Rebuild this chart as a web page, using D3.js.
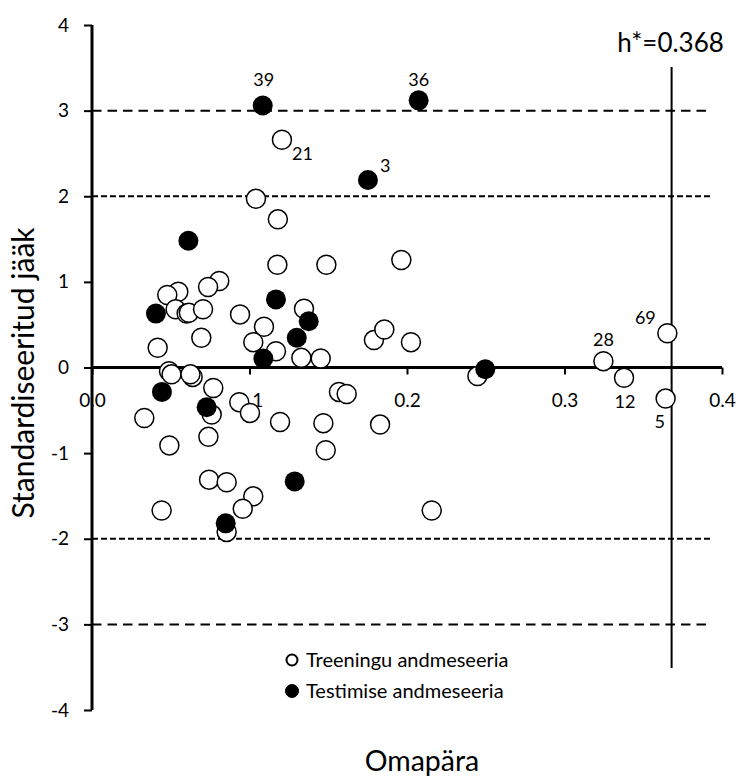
<!DOCTYPE html>
<html>
<head>
<meta charset="utf-8">
<script src="https://cdn.jsdelivr.net/npm/d3@7"></script>
<style>
  body { margin: 0; background: #fff; }
  text { font-family: Lato, "Open Sans", sans-serif; fill: #000; }
</style>
</head>
<body>
<div id="chart"></div>
<script>
// data: [omapära, standardiseeritud jääk, label]
var trainPoints = [
  [0.1206, 2.66, "21"], [0.1041, 1.97], [0.118, 1.73], [0.1177, 1.20], [0.1488, 1.20],
  [0.1964, 1.255], [0.0808, 1.01], [0.0737, 0.94], [0.0548, 0.885], [0.0478, 0.846],
  [0.0531, 0.68], [0.0601, 0.63], [0.0615, 0.64], [0.0705, 0.68], [0.094, 0.62],
  [0.1346, 0.686], [0.1092, 0.476], [0.1024, 0.296], [0.1168, 0.19], [0.1329, 0.113],
  [0.1452, 0.105], [0.0694, 0.347], [0.0417, 0.23], [0.179, 0.32], [0.1856, 0.444],
  [0.2025, 0.296], [0.2447, -0.10], [0.3247, 0.074, "28"], [0.3378, -0.12, "12"],
  [0.3653, 0.40, "69"], [0.3642, -0.363, "5"],
  [0.0489, -0.043], [0.0505, -0.08], [0.0639, -0.11], [0.0625, -0.08], [0.077, -0.24],
  [0.076, -0.55], [0.0935, -0.405], [0.1003, -0.53], [0.0332, -0.59], [0.1194, -0.636],
  [0.1469, -0.65], [0.1829, -0.667], [0.1568, -0.285], [0.1617, -0.31], [0.0739, -0.81],
  [0.0491, -0.91], [0.1484, -0.967], [0.0743, -1.31], [0.0855, -1.34], [0.1024, -1.505],
  [0.0957, -1.65], [0.0442, -1.67], [0.0855, -1.92], [0.2157, -1.67]
];
var testPoints = [
  [0.1084, 3.06, "39"], [0.2074, 3.12, "36"], [0.1752, 2.19, "3"], [0.0612, 1.48],
  [0.0406, 0.63], [0.1168, 0.795], [0.1376, 0.54], [0.13, 0.347], [0.1088, 0.105],
  [0.2497, -0.02], [0.0444, -0.285], [0.0728, -0.464], [0.1287, -1.33], [0.0849, -1.82]
];
var xTicks = [0, 0.1, 0.2, 0.3, 0.4];
var xTickLabels = ["0.0", "0.1", "0.2", "0.3", "0.4"];
var yTicks = [-4, -3, -2, -1, 0, 1, 2, 3, 4];
var limitLines = [3, 2, -2, -3];
var hStar = 0.368;
var seriesNames = ["Treeningu andmeseeria", "Testimise andmeseeria"];

var svgWidth = 740, svgHeight = 781;
var margin = { top: 25, right: 18, bottom: 71, left: 92 };
var width = svgWidth - margin.left - margin.right;
var height = svgHeight - margin.top - margin.bottom;

var svg = d3.select("#chart").append("svg")
  .attr("width", svgWidth)
  .attr("height", svgHeight);

var chartGroup = svg.append("g")
  .attr("transform", `translate(${margin.left}, ${margin.top})`);

var xScale = d3.scaleLinear().domain([0, 0.4]).range([0, width]);
var yScale = d3.scaleLinear().domain([-4, 4]).range([height, 0]);

// dashed limit lines (+-3 long dashes, +-2 short dashes)
chartGroup.selectAll(".limit")
  .data(limitLines)
  .enter()
  .append("line")
  .attr("x1", 0)
  .attr("x2", d => Math.abs(d) === 3 ? xScale(0.4) - 12 : xScale(0.4) - 10)
  .attr("y1", d => yScale(d))
  .attr("y2", d => yScale(d))
  .attr("stroke", "#000")
  .attr("stroke-width", 2)
  .attr("stroke-dasharray", d => Math.abs(d) === 3 ? "9.5,6" : "6,3");

// h* line
chartGroup.append("line")
  .attr("x1", xScale(hStar)).attr("x2", xScale(hStar))
  .attr("y1", yScale(3.51)).attr("y2", yScale(-3.51))
  .attr("stroke", "#000")
  .attr("stroke-width", 2);

chartGroup.append("text")
  .attr("x", xScale(hStar) - 1)
  .attr("y", 52 - margin.top)
  .attr("text-anchor", "middle")
  .attr("font-size", 26)
  .text("h*=" + hStar);

// y axis (plain hyphen for negatives)
var yAxis = d3.axisLeft(yScale).tickValues(yTicks).tickSize(8).tickPadding(15)
  .tickFormat(d => String(d));
var yAxisG = chartGroup.append("g").call(yAxis);
yAxisG.select(".domain").attr("stroke-width", 3).attr("d", `M0,${yScale(4)}V${yScale(-4)}`);
yAxisG.selectAll(".tick line").attr("stroke-width", 2);
yAxisG.selectAll(".tick text").attr("font-size", 19).attr("font-family", "Lato, sans-serif");

// x axis at y = 0
var xAxis = d3.axisBottom(xScale).tickValues(xTicks).tickSize(7).tickPadding(19)
  .tickFormat((d, i) => xTickLabels[i]);
var xAxisG = chartGroup.append("g")
  .attr("transform", `translate(0, ${yScale(0)})`)
  .call(xAxis);
xAxisG.select(".domain").attr("stroke-width", 3).attr("d", `M0,0H${xScale(0.4)}`);
xAxisG.selectAll(".tick line").attr("stroke-width", 2);
xAxisG.selectAll(".tick text").attr("font-size", 19).attr("font-family", "Lato, sans-serif");

// points
chartGroup.selectAll(".train")
  .data(trainPoints)
  .enter()
  .append("circle")
  .attr("cx", d => xScale(d[0]))
  .attr("cy", d => yScale(d[1]))
  .attr("r", 9.5)
  .attr("fill", "#fff")
  .attr("stroke", "#000")
  .attr("stroke-width", 1.5);

chartGroup.selectAll(".test")
  .data(testPoints)
  .enter()
  .append("circle")
  .attr("cx", d => xScale(d[0]))
  .attr("cy", d => yScale(d[1]))
  .attr("r", 10)
  .attr("fill", "#000");

// point labels
var labelOffset = {
  "39": [1, -19, "middle"], "36": [0, -14, "middle"], "21": [10, 20, "start"],
  "3": [12, -8, "start"], "28": [0, -15, "middle"], "69": [-22, -9, "middle"],
  "12": [1, 30, "middle"], "5": [-6, 29, "middle"]
};
var labelled = trainPoints.concat(testPoints).filter(d => d[2]);
chartGroup.selectAll(".ptLabel")
  .data(labelled)
  .enter()
  .append("text")
  .attr("x", d => xScale(d[0]) + labelOffset[d[2]][0])
  .attr("y", d => yScale(d[1]) + labelOffset[d[2]][1])
  .attr("text-anchor", d => labelOffset[d[2]][2])
  .attr("font-size", 18)
  .text(d => d[2]);

// legend
var legend = svg.append("g")
  .attr("transform", "translate(292, 660)");
seriesNames.forEach(function(name, i) {
  legend.append("circle")
    .attr("cx", 0)
    .attr("cy", i * 31)
    .attr("r", i === 0 ? 5.5 : 6.5)
    .attr("fill", i === 0 ? "#fff" : "#000")
    .attr("stroke", "#000")
    .attr("stroke-width", i === 0 ? 2 : 1);
  legend.append("text")
    .attr("x", 14)
    .attr("y", i * 31 + 7)
    .attr("font-size", 20)
    .text(name);
});

// axis titles
svg.append("text")
  .attr("transform", "rotate(-90)")
  .attr("x", -373)
  .attr("y", 34)
  .attr("text-anchor", "middle")
  .attr("font-size", 30)
  .text("Standardiseeritud jääk");

svg.append("text")
  .attr("x", 422)
  .attr("y", 771)
  .attr("text-anchor", "middle")
  .attr("font-size", 28.5)
  .text("Omapära");
</script>
</body>
</html>
